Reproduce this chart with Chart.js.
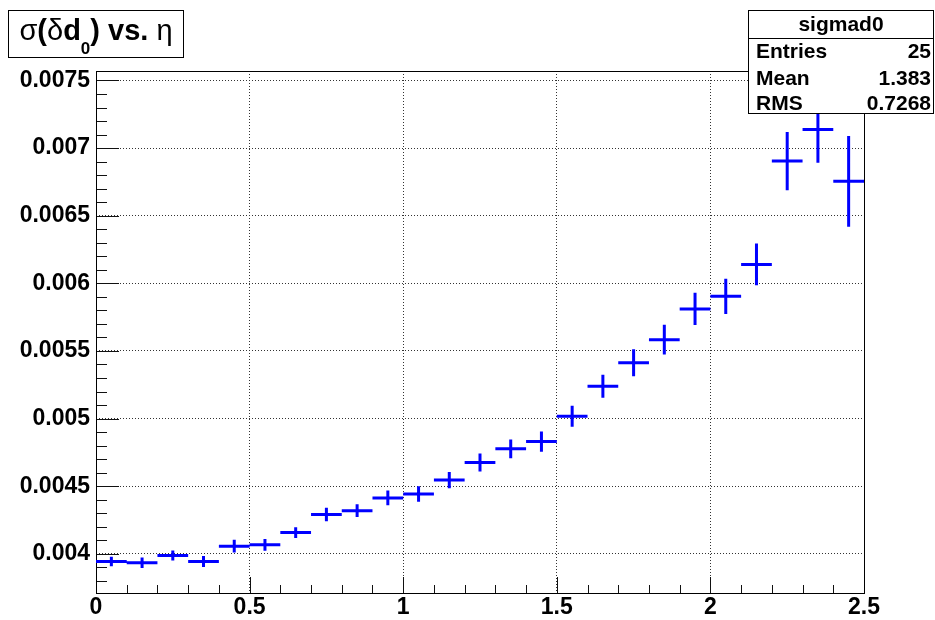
<!DOCTYPE html>
<html>
<head>
<meta charset="utf-8">
<script src="https://cdn.jsdelivr.net/npm/chart.js@4.4.1/dist/chart.umd.min.js"></script>
<style>
  html, body { margin: 0; padding: 0; background: #fff; }
  #wrap { width: 935px; height: 620px; }
</style>
</head>
<body>
<div id="wrap"><canvas id="chart" width="935" height="620"></canvas></div>
<script>
// eta bin edges (25 bins)
const etaEdges = [0, 0.1, 0.2, 0.3, 0.4, 0.5, 0.6, 0.7, 0.8, 0.9, 1.0, 1.1, 1.2,
                  1.3, 1.4, 1.5, 1.6, 1.7, 1.8, 1.9, 2.0, 2.1, 2.2, 2.3, 2.4, 2.5];
// sigma(delta d0) per bin and its error
const sigmaD0 = [0.003943, 0.003934, 0.003987, 0.003943, 0.004056, 0.004066, 0.004157,
                 0.004290, 0.004319, 0.004413, 0.004442, 0.004545, 0.004675, 0.004776,
                 0.004830, 0.005017, 0.005238, 0.005413, 0.005583, 0.005811, 0.005904,
                 0.006140, 0.006904, 0.007137, 0.006754];
const sigmaD0Err = [0.000035, 0.000039, 0.000037, 0.000040, 0.000047, 0.000043, 0.000040,
                    0.000050, 0.000047, 0.000055, 0.000058, 0.000060, 0.000066, 0.000070,
                    0.000075, 0.000077, 0.000085, 0.000100, 0.000110, 0.000120, 0.000130,
                    0.000155, 0.000215, 0.000245, 0.000336];
const xTickValues = [0, 0.5, 1, 1.5, 2, 2.5];
const yTickValues = [0.004, 0.0045, 0.005, 0.0055, 0.006, 0.0065, 0.007, 0.0075];
const yRange = [0.00371, 0.00757];
const statsName = 'sigmad0';
const statsLabels = ['Entries', 'Mean', 'RMS'];
const statsValues = ['25', '1.383', '0.7268'];

const FONT = '"Liberation Sans", Arial, Helvetica, sans-serif';

const points = sigmaD0.map((v, i) => ({
    x: (etaEdges[i] + etaEdges[i + 1]) / 2,
    y: v,
    xMin: etaEdges[i],
    xMax: etaEdges[i + 1],
    yErr: sigmaD0Err[i]
}));

// ROOT style frame, inner tick marks, error crosses, title and stats boxes
const rootStyle = {
    id: 'rootStyle',
    beforeDatasetsDraw(chart) {
        const { ctx, chartArea: a, scales: { x, y } } = chart;
        ctx.save();
        ctx.strokeStyle = '#111';
        ctx.lineWidth = 1;
        ctx.beginPath();
        // y ticks every 0.0001, major every 0.0005
        for (let k = 38; k <= 75; k++) {
            const py = Math.round(y.getPixelForValue(k / 10000)) + 0.5;
            const len = k % 5 === 0 ? 23 : 11;
            ctx.moveTo(a.left, py);
            ctx.lineTo(a.left + len, py);
        }
        // x ticks every 0.1, major every 0.5
        for (let k = 0; k <= 25; k++) {
            const px = Math.round(x.getPixelForValue(k / 10)) + 0.5;
            const len = k % 5 === 0 ? 16 : 8;
            ctx.moveTo(px, a.bottom);
            ctx.lineTo(px, a.bottom - len);
        }
        ctx.stroke();
        // frame
        ctx.strokeStyle = '#000';
        ctx.strokeRect(Math.round(a.left) + 0.5, Math.round(a.top) + 0.5,
                       Math.round(a.right - a.left), Math.round(a.bottom - a.top));
        ctx.restore();
    },
    afterDatasetsDraw(chart) {
        const { ctx, chartArea: a, scales: { x, y } } = chart;
        const data = chart.data.datasets[0].data;
        ctx.save();
        ctx.beginPath();
        ctx.rect(a.left, a.top, a.right - a.left, a.bottom - a.top);
        ctx.clip();
        ctx.strokeStyle = '#0000ff';
        ctx.lineWidth = 3;
        ctx.beginPath();
        data.forEach(p => {
            const py = y.getPixelForValue(p.y);
            const px = x.getPixelForValue(p.x);
            ctx.moveTo(x.getPixelForValue(p.xMin), py);
            ctx.lineTo(x.getPixelForValue(p.xMax), py);
            ctx.moveTo(px, y.getPixelForValue(p.y + p.yErr));
            ctx.lineTo(px, y.getPixelForValue(p.y - p.yErr));
        });
        ctx.stroke();
        ctx.restore();
    },
    afterDraw(chart) {
        const { ctx } = chart;
        ctx.save();
        ctx.strokeStyle = '#000';
        ctx.lineWidth = 1;

        // title box
        ctx.fillStyle = '#fff';
        ctx.fillRect(8, 10, 176, 48);
        ctx.strokeRect(8.5, 10.5, 175, 47);
        const segs = [
            { t: '\u03c3', f: '29px ' + FONT, dy: 0 },
            { t: '(', f: 'bold 29px ' + FONT, dy: 0 },
            { t: '\u03b4', f: '29px ' + FONT, dy: 0 },
            { t: 'd', f: 'bold 29px ' + FONT, dy: 0 },
            { t: '0', f: 'bold 17px ' + FONT, dy: 14 },
            { t: ')', f: 'bold 29px ' + FONT, dy: 0 },
            { t: ' vs. ', f: 'bold 29px ' + FONT, dy: 0 },
            { t: '\u03b7', f: '29px ' + FONT, dy: 0 }
        ];
        let w = 0;
        segs.forEach(s => { ctx.font = s.f; s.w = ctx.measureText(s.t).width; w += s.w; });
        let tx = 8 + (176 - w) / 2;
        ctx.fillStyle = '#000';
        ctx.textBaseline = 'alphabetic';
        segs.forEach(s => {
            ctx.font = s.f;
            ctx.fillText(s.t, tx, 40 + s.dy);
            tx += s.w;
        });

        // stats box
        ctx.fillStyle = '#fff';
        ctx.fillRect(748, 10, 186, 104);
        ctx.strokeRect(748.5, 10.5, 185, 103);
        ctx.beginPath();
        ctx.moveTo(748, 38.5);
        ctx.lineTo(934, 38.5);
        ctx.stroke();
        ctx.fillStyle = '#000';
        ctx.font = 'bold 21px ' + FONT;
        ctx.textAlign = 'center';
        ctx.fillText(statsName, 841, 31);
        const rowBase = [58, 85, 110];
        statsLabels.forEach((lab, i) => {
            ctx.textAlign = 'left';
            ctx.fillText(lab, 756, rowBase[i]);
            ctx.textAlign = 'right';
            ctx.fillText(statsValues[i], 931, rowBase[i]);
        });
        ctx.restore();
    }
};

const tickFont = { family: FONT, size: 23, weight: 'bold' };

new Chart(document.getElementById('chart'), {
    type: 'scatter',
    data: {
        datasets: [{
            data: points,
            pointRadius: 0,
            pointHoverRadius: 0,
            showLine: false
        }]
    },
    options: {
        responsive: false,
        animation: false,
        devicePixelRatio: 1,
        layout: { padding: { left: 0, top: 71, right: 71, bottom: 0 } },
        plugins: {
            legend: { display: false },
            tooltip: { enabled: false },
            title: { display: false }
        },
        scales: {
            x: {
                type: 'linear',
                min: 0,
                max: 2.5,
                afterFit(scale) { scale.height = 27; },
                afterBuildTicks(scale) { scale.ticks = xTickValues.map(v => ({ value: v })); },
                ticks: {
                    color: '#000',
                    font: tickFont,
                    padding: 1,
                    maxRotation: 0,
                    autoSkip: false,
                    callback: v => String(v)
                },
                grid: { color: '#333', lineWidth: 1, drawTicks: false },
                border: { display: false, dash: [1, 2] }
            },
            y: {
                type: 'linear',
                min: yRange[0],
                max: yRange[1],
                afterFit(scale) { scale.width = 96; },
                afterBuildTicks(scale) { scale.ticks = yTickValues.map(v => ({ value: v })); },
                ticks: {
                    color: '#000',
                    font: tickFont,
                    padding: 6,
                    autoSkip: false,
                    callback: v => String(v)
                },
                grid: { color: '#333', lineWidth: 1, drawTicks: false },
                border: { display: false, dash: [1, 2] }
            }
        }
    },
    plugins: [rootStyle]
});
</script>
</body>
</html>
